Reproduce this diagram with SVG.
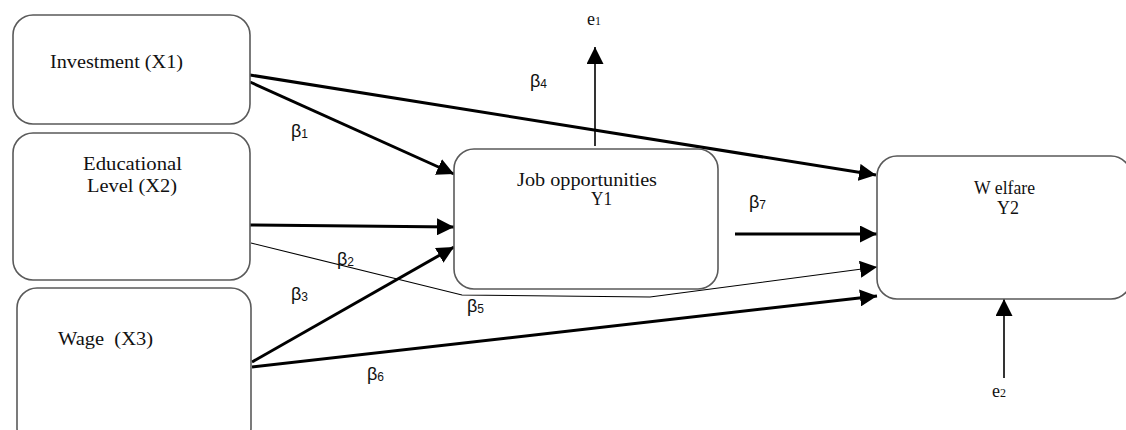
<svg xmlns="http://www.w3.org/2000/svg" width="1126" height="430" viewBox="0 0 1126 430">
<style>
.box{fill:#fff;stroke:#5a5a5a;stroke-width:1.6}
.t{font-family:"Liberation Serif","Times New Roman",serif;font-size:18px;fill:#111}
.b{font-family:"Liberation Sans",Arial,sans-serif;font-size:18px;fill:#111}
.sub{font-size:12px}
.thick{stroke:#000;stroke-width:3;fill:none}
.med{stroke:#000;stroke-width:1.6;fill:none}
.thin{stroke:#000;stroke-width:1.1;fill:none}
</style>
<defs>
<marker id="ah" markerUnits="userSpaceOnUse" markerWidth="17" markerHeight="17" refX="17" refY="8.5" orient="auto" viewBox="0 0 17 17">
<path d="M0,0 L17,8.5 L0,17 z" fill="#000"/>
</marker>
</defs>

<g id="connectors">
<line class="thick" x1="250" y1="75" x2="876" y2="175" marker-end="url(#ah)"/>
<line class="thick" x1="250" y1="82" x2="454" y2="174" marker-end="url(#ah)"/>
<line class="thick" x1="250" y1="225" x2="454" y2="227" marker-end="url(#ah)"/>
<polyline class="thin" points="251,243 462,295 650,297 877,267" marker-end="url(#ah)"/>
<line class="thick" x1="252" y1="362" x2="454" y2="247" marker-end="url(#ah)"/>
<line class="thick" x1="252" y1="367" x2="877" y2="296" marker-end="url(#ah)"/>
<line class="thick" x1="735" y1="234" x2="877" y2="234" marker-end="url(#ah)"/>
<line class="med" x1="595" y1="146" x2="595" y2="47" marker-end="url(#ah)"/>
<line class="med" x1="1004" y1="378" x2="1004" y2="299" marker-end="url(#ah)"/>
</g>

<g id="x1">
<rect class="box" x="13" y="15" width="237" height="109" rx="20"/>
<text class="t" x="50" y="68" textLength="133" lengthAdjust="spacingAndGlyphs">Investment (X1)</text>
</g>
<g id="x2">
<rect class="box" x="13" y="133" width="237" height="147" rx="20"/>
<text class="t" x="83" y="170" textLength="99" lengthAdjust="spacingAndGlyphs">Educational</text>
<text class="t" x="87" y="192" textLength="90" lengthAdjust="spacingAndGlyphs">Level (X2)</text>
</g>
<g id="x3">
<rect class="box" x="17" y="288" width="234" height="160" rx="20"/>
<text class="t" x="58" y="345" textLength="95" lengthAdjust="spacingAndGlyphs" xml:space="preserve">Wage  (X3)</text>
</g>
<g id="y1">
<rect class="box" x="454" y="149" width="264" height="140" rx="20"/>
<text class="t" x="517" y="186" textLength="140" lengthAdjust="spacingAndGlyphs">Job opportunities</text>
<text class="t" x="591" y="205" textLength="21" lengthAdjust="spacingAndGlyphs">Y1</text>
</g>
<g id="y2">
<rect class="box" x="877" y="156" width="254" height="143" rx="20"/>
<text class="t" x="974" y="194" textLength="61" lengthAdjust="spacingAndGlyphs" xml:space="preserve">W elfare</text>
<text class="t" x="997" y="214" textLength="22" lengthAdjust="spacingAndGlyphs">Y2</text>
</g>
<g id="e1">
<text class="t" x="587" y="25">e<tspan class="sub">1</tspan></text>
</g>
<g id="e2">
<text class="t" x="992" y="397">e<tspan class="sub">2</tspan></text>
</g>

<g id="labels">
<text class="b" x="291" y="137">β<tspan class="sub" dy="1">1</tspan></text>
<text class="b" x="337" y="265">β<tspan class="sub" dy="1">2</tspan></text>
<text class="b" x="291" y="300">β<tspan class="sub" dy="1">3</tspan></text>
<text class="b" x="530" y="87">β<tspan class="sub" dy="1">4</tspan></text>
<text class="b" x="467" y="312">β<tspan class="sub" dy="1">5</tspan></text>
<text class="b" x="367" y="380">β<tspan class="sub" dy="1">6</tspan></text>
<text class="b" x="749" y="208">β<tspan class="sub" dy="1">7</tspan></text>
</g>
</svg>
